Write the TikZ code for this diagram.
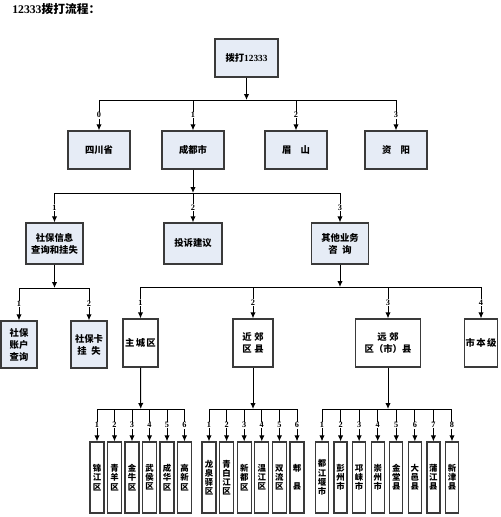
\documentclass[tikz,border=0pt]{standalone}
\usepackage{fontspec}
\setmainfont{Liberation Serif}
\newfontfamily\cjk{Noto Sans CJK SC}
\usetikzlibrary{arrows.meta}
\definecolor{boxblue}{HTML}{E6ECF6}
\definecolor{boxline}{HTML}{3A3A3A}
\tikzset{
  wh/.style 2 args={minimum width=#1*0.75pt, minimum height=#2*0.75pt},
  box/.style={draw=boxline, line width=0.9pt, fill=boxblue, align=center, inner sep=0.5pt,
    font=\cjk\bfseries\fontsize{7}{9}\selectfont},
  wbox/.style={box, fill=white},
  tall/.style={wbox, font=\cjk\bfseries\fontsize{6.3}{6.9}\selectfont},
  bus/.style={line width=0.75pt},
  link/.style={-{Latex[length=4.5pt,width=4pt]}, line width=0.75pt},
  num/.style={fill=white, inner sep=0.4pt, font=\bfseries\fontsize{6.2}{6.2}\selectfont},
}
\begin{document}
\begin{tikzpicture}[x=0.75pt,y=-0.75pt]
        \useasboundingbox (0,0) rectangle (500,517);
        \node[anchor=west, inner sep=0pt, font=\bfseries\fontsize{8.8}{8.8}\selectfont] (title) at (12,9) {12333{\cjk 拨打流程：}};

        \node[box, wh={63}{38}] (root) at (246.5,58) {拨打{\rmfamily 12333}};
        \node[box, wh={62}{38}] (sc) at (99,150) {四川省};
        \node[box, wh={62}{38}] (cd) at (193,150) {成都市};
        \node[box, wh={62}{38}] (ms) at (296,150) {眉\quad 山};
        \node[box, wh={62}{38}] (zy) at (396,150) {资\quad 阳};
        \coordinate (b1) at (246.5,100);

        \draw[bus] (sc.north |- b1) -- (zy.north |- b1);
        \draw[link] (root) -- (b1);
        \foreach \n/\k in {sc/0, cd/1, ms/2, zy/3}
          \draw[link] (\n.north |- b1) -- node[num] {\k} (\n.north);

        \node[box, wh={57}{41}] (sb) at (54.5,243.5) {社保信息\\查询和挂失};
        \node[box, wh={58}{41}] (ts) at (193,243.5) {投诉建议};
        \node[box, wh={57}{41}] (qt) at (340,243.5) {其他业务\\咨\enspace 询};
        \coordinate (b2) at (193,193);

        \draw[bus] (sb.north |- b2) -- (qt.north |- b2);
        \draw[link] (cd) -- (b2);
        \foreach \n/\k in {sb/1, ts/2, qt/3}
          \draw[link] (\n.north |- b2) -- node[num] {\k} (\n.north);

        \node[box, wh={36}{47}] (zh) at (19,344.5) {社保\\账户\\查询};
        \node[box, wh={36}{47}] (gs) at (89,344.5) {社保卡\\挂\enspace 失};
        \coordinate (b3) at (54.5,288);

        \draw[bus] (zh.north |- b3) -- (gs.north |- b3);
        \draw[link] (sb) -- (b3);
        \foreach \n/\k in {zh/1, gs/2}
          \draw[link] (\n.north |- b3) -- node[num] {\k} (\n.north);

        \node[wbox, wh={35}{48}] (zc) at (140.5,343) {主\hspace{1pt}城\hspace{1pt}区};
        \node[wbox, wh={40}{48}] (jj) at (253,343) {近\hspace{2pt}郊\\区\hspace{2pt}县};
        \node[wbox, wh={65}{48}] (yj) at (388,343) {远\hspace{2pt}郊\\区（市）县};
        \node[wbox, wh={33}{48}] (sj) at (481,343) {市\hspace{1pt}本\hspace{1pt}级};
        \coordinate (b4) at (340,287);

        \draw[bus] (zc.north |- b4) -- (sj.north |- b4);
        \draw[link] (qt) -- (b4);
        \foreach \n/\k in {zc/1, jj/2, yj/3, sj/4}
          \draw[link] (\n.north |- b4) -- node[num] {\k} (\n.north);

        % districts
        \foreach \t [count=\i] in {{锦\\江\\区}, {青\\羊\\区}, {金\\牛\\区}, {武\\侯\\区}, {成\\华\\区}, {高\\新\\区}}
          \node[tall, wh={14}{71}] (zc\i) at ({97+17.5*(\i-1)},477.5) {\t};
        \coordinate (b5) at (140.75,409);
        \draw[bus] (zc1.north |- b5) -- (zc6.north |- b5);
        \draw[link] (zc) -- (b5);
        \foreach \i in {1,...,6}
          \draw[link] (zc\i.north |- b5) -- node[num] {\i} (zc\i.north);

        % near suburbs
        \foreach \t [count=\i] in {{龙\\泉\\驿\\区}, {青\\白\\江\\区}, {新\\都\\区}, {温\\江\\区}, {双\\流\\区}, {郫\\ \\县}}
          \node[tall, wh={14}{71}] (jj\i) at ({209+17.6*(\i-1)},477.5) {\t};
        \coordinate (b6) at (253,409);
        \draw[bus] (jj1.north |- b6) -- (jj6.north |- b6);
        \draw[link] (jj) -- (b6);
        \foreach \i in {1,...,6}
          \draw[link] (jj\i.north |- b6) -- node[num] {\i} (jj\i.north);

        % far suburbs
        \foreach \t [count=\i] in {{都\\江\\堰\\市}, {彭\\州\\市}, {邛\\崃\\市}, {崇\\州\\市}, {金\\堂\\县}, {大\\邑\\县}, {蒲\\江\\县}, {新\\津\\县}}
          \node[tall, wh={13}{71}] (yj\i) at ({322+18.57*(\i-1)},477.5) {\t};
        \coordinate (b7) at (388,409);
        \draw[bus] (yj1.north |- b7) -- (yj8.north |- b7);
        \draw[link] (yj) -- (b7);
        \foreach \i in {1,...,8}
          \draw[link] (yj\i.north |- b7) -- node[num] {\i} (yj\i.north);
      \end{tikzpicture}
\end{document}
